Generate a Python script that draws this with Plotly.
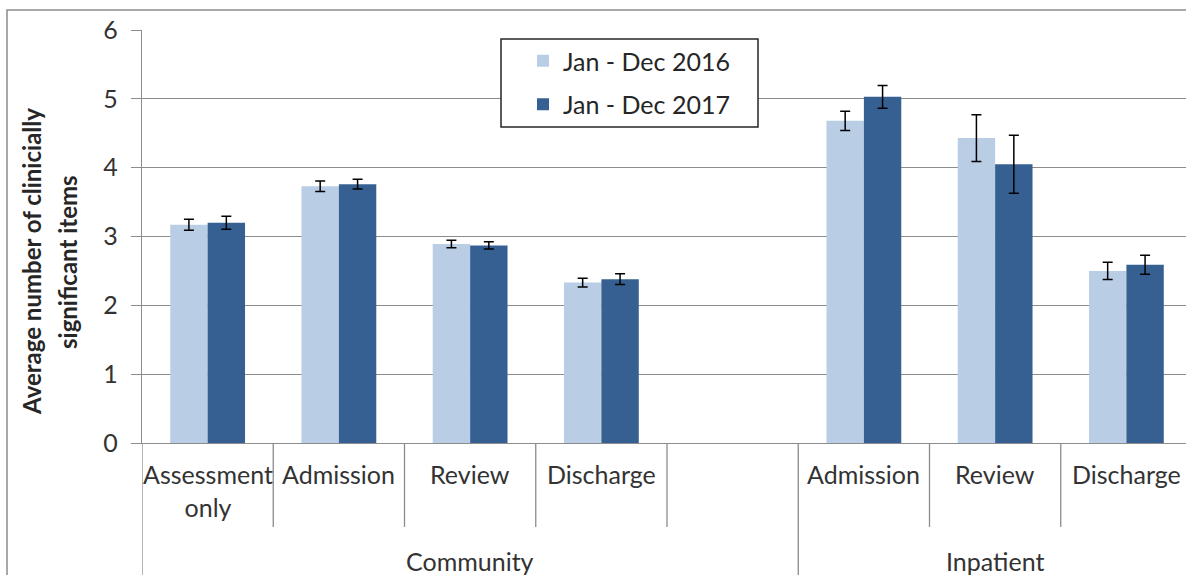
import plotly.graph_objects as go

# ---- data ----
groups = ["Community", "Community", "Community", "Community", "Community",
          "Inpatient", "Inpatient", "Inpatient"]
stages = ["Assessment<br>only", "Admission", "Review", "Discharge", "",
          "Admission", "Review", "Discharge"]
series_names = ["Jan - Dec 2016", "Jan - Dec 2017"]
values_2016 = [3.17, 3.73, 2.89, 2.33, None, 4.68, 4.43, 2.50]
values_2017 = [3.20, 3.76, 2.87, 2.38, None, 5.03, 4.05, 2.59]
err_2016 = [0.08, 0.075, 0.055, 0.065, 0, 0.14, 0.34, 0.126]
err_2017 = [0.095, 0.07, 0.053, 0.078, 0, 0.165, 0.42, 0.138]
y_ticks = [0, 1, 2, 3, 4, 5, 6]
y_title_lines = ["Average number of clinicially", "significant items"]

FONT = "Lato, 'Liberation Sans', sans-serif"
keys = [f"{g}|{s}" for g, s in zip(groups, stages)]

colors = ["#b9cde5", "#376092"]
fig = go.Figure()
for name, vals, errs, col in zip(series_names, [values_2016, values_2017],
                                 [err_2016, err_2017], colors):
    fig.add_trace(go.Bar(
        x=keys, y=vals, name=name, marker_color=col, marker_line_width=0,
        legendgroup=name,
        error_y=dict(type="data", array=errs, visible=True, color="black",
                     thickness=1.5, width=5),
    ))

W, H = 1186, 575
ml, mr, mt, mb = 142, 0, 30, 132
pw = W - ml - mr
ph = H - mt - mb

def px2paper_x(px):
    return (px - ml) / pw

def px2paper_y(py):
    return (H - mb - py) / ph

shapes = []
annotations = []

# category tick dividers (short inside group, long at group edges)
n = len(keys)
for b in range(n + 1):
    pos = b - 0.5
    is_group_edge = (b == 0) or (b == n) or (groups[b] != groups[b - 1])
    shapes.append(dict(type="line", xref="x", yref="paper", ysizemode="pixel",
                       yanchor=0, x0=pos, x1=pos, y0=0,
                       y1=-200 if is_group_edge else -84,
                       line=dict(color="#8c8c8c", width=1.3)))

# stage labels
for k, s in zip(keys, stages):
    if s:
        annotations.append(dict(x=k, xref="x", y=0, yref="paper", yanchor="top",
                                yshift=-14, text=s, showarrow=False, align="center",
                                font=dict(family=FONT, size=25, color="#333333")))
# group labels
for g in dict.fromkeys(groups):
    idx = [i for i, gg in enumerate(groups) if gg == g]
    annotations.append(dict(x=sum(idx) / len(idx), xref="x", y=0, yref="paper",
                            yanchor="top", yshift=-101, text=g, showarrow=False,
                            font=dict(family=FONT, size=25, color="#333333")))

# y title (two rotated lines)
for line_text, cx in zip(y_title_lines, [31, 67]):
    annotations.append(dict(x=px2paper_x(cx), xref="paper", y=px2paper_y(262), yref="paper",
                            xanchor="center", yanchor="middle", textangle=-90,
                            text="<b>" + line_text + "</b>", showarrow=False,
                            font=dict(family=FONT, size=24, color="#262626")))

# legend box
shapes.append(dict(type="rect", xref="paper", yref="paper", layer="above",
                   x0=px2paper_x(501), x1=px2paper_x(758),
                   y0=px2paper_y(127), y1=px2paper_y(39),
                   fillcolor="white", line=dict(color="#262626", width=1.5)))
# outer frame
shapes.append(dict(type="rect", xref="paper", yref="paper", layer="above",
                   x0=px2paper_x(7), x1=px2paper_x(1300),
                   y0=px2paper_y(700), y1=px2paper_y(10),
                   line=dict(color="#8c8c8c", width=1.5)))

fig.update_layout(
    width=W, height=H,
    margin=dict(l=ml, r=mr, t=mt, b=mb, pad=0),
    paper_bgcolor="white", plot_bgcolor="white",
    barmode="group", bargap=0.43, bargroupgap=0,
    font=dict(family=FONT, size=25, color="#333333"),
    showlegend=True,
    legend=dict(x=px2paper_x(523), y=px2paper_y(38), xanchor="left", yanchor="top",
                bgcolor="rgba(0,0,0,0)", borderwidth=0, tracegroupgap=8,
                font=dict(family=FONT, size=25, color="#262626")),
    xaxis=dict(type="category", range=[-0.5, n - 0.5 - 6 / 131.25],
               showticklabels=False, ticks="", showgrid=False,
               showline=True, linecolor="#8c8c8c", linewidth=1.3, zeroline=False),
    yaxis=dict(range=[0, 6], tickvals=y_ticks, showgrid=True, gridcolor="#8c8c8c",
               gridwidth=1.3, showline=True, linecolor="#8c8c8c", linewidth=1.3,
               ticks="outside", ticklen=10, tickcolor="#8c8c8c", tickwidth=1.3,
               zeroline=False, ticklabelstandoff=8,
               tickfont=dict(family=FONT, size=25, color="#333333")),
    shapes=shapes, annotations=annotations,
)

fig.write_html("out.html", config={"displayModeBar": False},
               post_script="document.body.style.margin='0';document.body.style.overflow='hidden';")
